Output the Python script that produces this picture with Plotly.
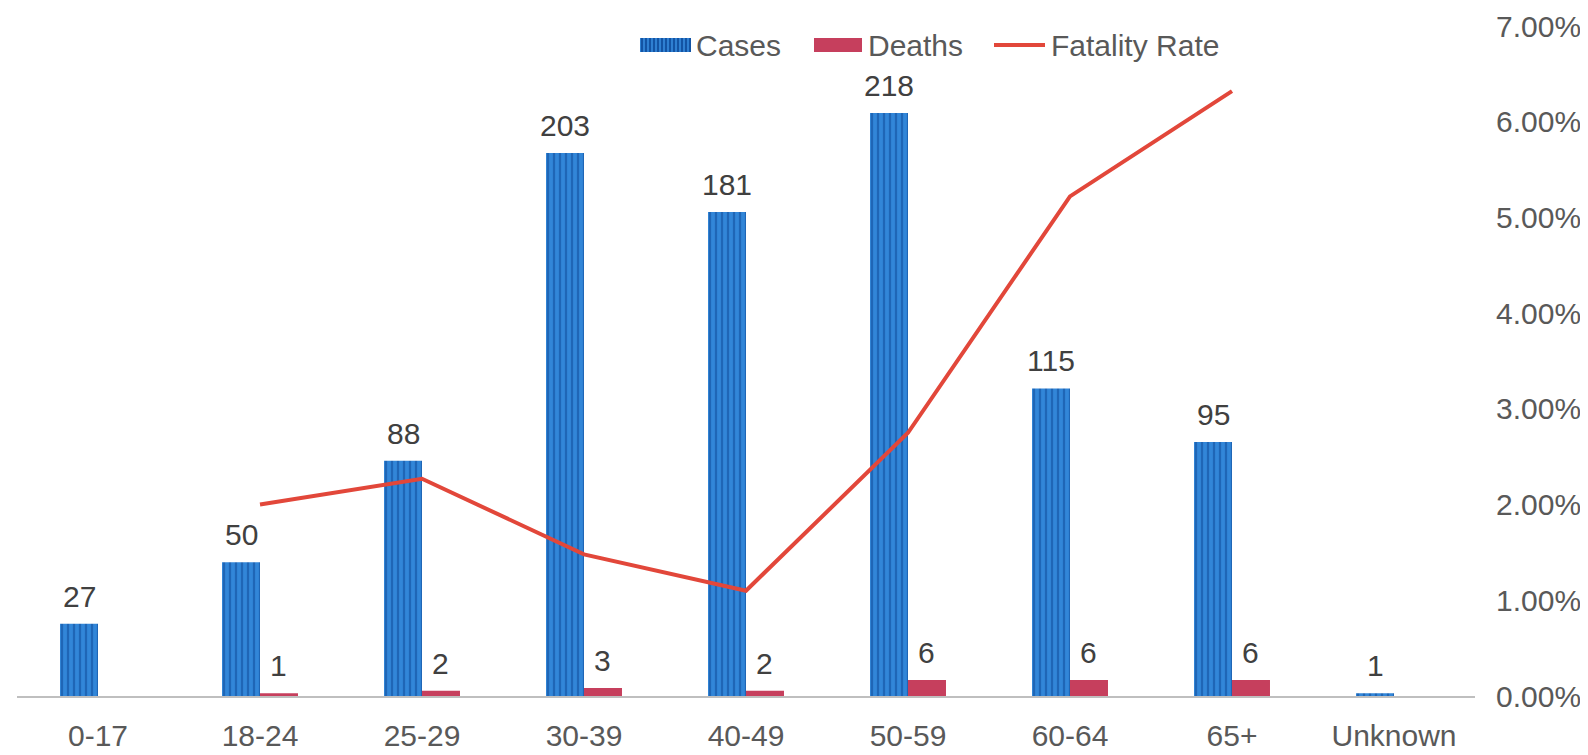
import plotly.graph_objects as go

categories = ["0-17", "18-24", "25-29", "30-39", "40-49", "50-59", "60-64", "65+", "Unknown"]
cases = [27, 50, 88, 203, 181, 218, 115, 95, 1]
deaths = [0, 1, 2, 3, 2, 6, 6, 6, 0]
fatality_rate = [None, 0.0200, 0.0227, 0.0148, 0.0110, 0.0275, 0.0522, 0.0632, None]
series_names = ["Cases", "Deaths", "Fatality Rate"]

FONT = "Liberation Sans, Arial, sans-serif"
CASE_COLOR, CASE_STRIPE = "#2f80d2", "#0b4694"
DEATH_COLOR = "#c63f5d"
LINE_COLOR = "#e2473a"
BARGAP = 0.531
OFF = (1 - BARGAP) / 4  # centre offset of each bar inside its group

W, H = 1588, 755
ML, MR, MT, MB = 9, 121, 18, 67
PW, PH = W - ML - MR, H - MT - MB


def px(xp):
    return (xp - ML) / PW


def py(yp):
    return (H - MB - yp) / PH


fig = go.Figure()
fig.add_trace(go.Bar(
    x=categories, y=cases, name=series_names[0],
    marker=dict(color=CASE_COLOR, line=dict(width=0),
                pattern=dict(shape="|", fgcolor=CASE_STRIPE, bgcolor="#3286d8", size=6, solidity=0.38)),
))
fig.add_trace(go.Bar(
    x=categories, y=deaths, name=series_names[1],
    marker=dict(color=DEATH_COLOR, line=dict(width=0)),
))
fig.add_trace(go.Scatter(
    x=categories, y=fatality_rate, name=series_names[2], mode="lines", yaxis="y2",
    line=dict(color=LINE_COLOR, width=4), connectgaps=False,
))

# value labels above the bars, placed through the data axes
annotations = []
for i, (c, d) in enumerate(zip(cases, deaths)):
    for val, off in ((c, -OFF), (d, OFF)):
        if val:
            annotations.append(dict(
                x=i + off, y=val, xref="x", yref="y", text=str(val), showarrow=False,
                yanchor="bottom", xanchor="center", yshift=9,
                font=dict(size=30, color="#404040", family=FONT)))

# legend drawn like the reference (wide swatches)
shapes = []
LEG_Y = 37
swatches = [(632, 683), (806, 854), (986, 1037)]
text_x = [686, 858, 1041]
# Cases swatch with stripes
x0, x1 = swatches[0]
shapes.append(dict(type="rect", xref="paper", yref="paper", x0=px(x0), x1=px(x1),
                   y0=py(LEG_Y + 7), y1=py(LEG_Y - 7), fillcolor=CASE_COLOR, line=dict(width=0)))
xs = x0 + 2
while xs < x1:
    shapes.append(dict(type="line", xref="paper", yref="paper", x0=px(xs), x1=px(xs),
                       y0=py(LEG_Y + 7), y1=py(LEG_Y - 7), line=dict(color=CASE_STRIPE, width=1.5)))
    xs += 4
# Deaths swatch
x0, x1 = swatches[1]
shapes.append(dict(type="rect", xref="paper", yref="paper", x0=px(x0), x1=px(x1),
                   y0=py(LEG_Y + 7), y1=py(LEG_Y - 7), fillcolor=DEATH_COLOR, line=dict(width=0)))
# Fatality line swatch
x0, x1 = swatches[2]
shapes.append(dict(type="line", xref="paper", yref="paper", x0=px(x0), x1=px(x1),
                   y0=py(LEG_Y), y1=py(LEG_Y), line=dict(color=LINE_COLOR, width=4)))
for name, tx in zip(series_names, text_x):
    annotations.append(dict(x=px(tx), y=py(LEG_Y), xref="paper", yref="paper", text=name,
                            showarrow=False, xanchor="left", yanchor="middle",
                            font=dict(size=30, color="#595959", family=FONT)))

fig.update_layout(
    width=W, height=H,
    margin=dict(l=ML, r=MR, t=MT, b=MB, autoexpand=False),
    paper_bgcolor="white", plot_bgcolor="white",
    font=dict(family=FONT, size=30, color="#595959"),
    barmode="group", bargap=BARGAP, bargroupgap=0,
    showlegend=False,
    annotations=annotations,
    shapes=shapes,
    xaxis=dict(showgrid=False, showline=True, linecolor="#bfbfbf", linewidth=2,
               layer="above traces", automargin=False,
               ticks="outside", ticklen=12, tickcolor="rgba(0,0,0,0)",
               tickfont=dict(size=30, color="#595959")),
    yaxis=dict(range=[0, 250.5], visible=False, showgrid=False),
    yaxis2=dict(range=[0, 0.07], overlaying="y", side="right", tickformat=".2%",
                dtick=0.01, showgrid=False, showline=False, zeroline=False,
                automargin=False,
                ticks="outside", ticklen=14, tickcolor="rgba(0,0,0,0)",
                tickfont=dict(size=30, color="#595959")),
)

fig.write_html("out.html")
